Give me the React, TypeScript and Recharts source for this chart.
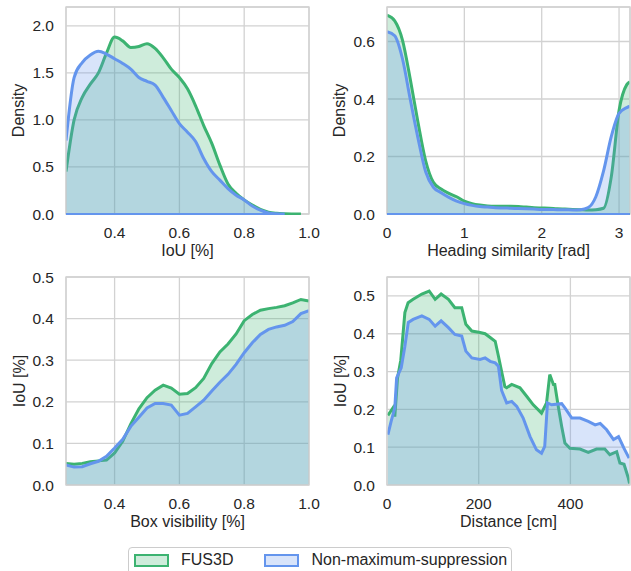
import {
  Area,
  AreaChart,
  CartesianGrid,
  ReferenceArea,
  ReferenceLine,
  XAxis,
  YAxis,
} from "recharts";

// Series shown in every panel
const seriesNames = ["FUS3D", "Non-maximum-suppression"];
const seriesColors = ["#3cb371", "#6495ed"];

// Top left: density of IoU
const iouX = [
  0.25, 0.275, 0.3, 0.325, 0.35, 0.375, 0.4, 0.425, 0.45, 0.475, 0.5, 0.525,
  0.55, 0.575, 0.6, 0.625, 0.65, 0.675, 0.7, 0.725, 0.75, 0.775, 0.8, 0.825,
  0.85, 0.875, 0.9, 0.925, 0.95, 0.975,
];
const fusIouDensity = [
  0.45, 1.0, 1.24, 1.38, 1.5, 1.71, 1.88, 1.84, 1.77, 1.78, 1.81, 1.76, 1.66,
  1.54, 1.45, 1.33, 1.15, 0.94, 0.75, 0.52, 0.32, 0.22, 0.15, 0.095, 0.05, 0.02,
  0.008, 0.003, 0.001, 0,
];
const nmsIouDensity = [
  0.78, 1.45, 1.61, 1.69, 1.73, 1.7, 1.65, 1.6, 1.54, 1.45, 1.41, 1.37, 1.24,
  1.1, 0.96, 0.87, 0.77, 0.59, 0.45, 0.36, 0.27, 0.2, 0.15, 0.085, 0.04, 0.012,
  0.003, 0,
];
const iouTicks = [0.4, 0.6, 0.8, 1.0];
const iouDensityTicks = [0, 0.5, 1.0, 1.5, 2.0];

// Top right: density of heading similarity
const headingX = [
  0, 0.1, 0.2, 0.3, 0.4, 0.5, 0.6, 0.7, 0.8, 0.9, 1.0, 1.1, 1.2, 1.3, 1.4, 1.5,
  1.6, 1.7, 1.8, 1.9, 2.0, 2.1, 2.2, 2.3, 2.4, 2.5, 2.6, 2.7, 2.8, 2.9, 3.0, 3.1,
  3.14,
];
const fusHeadingDensity = [
  0.692, 0.672, 0.605, 0.47, 0.32, 0.185, 0.11, 0.087, 0.072, 0.06, 0.045,
  0.036, 0.031, 0.028, 0.027, 0.027, 0.027, 0.026, 0.024, 0.022, 0.021, 0.02,
  0.018, 0.017, 0.016, 0.015, 0.014, 0.015, 0.02, 0.13, 0.36, 0.45, 0.46,
];
const nmsHeadingDensity = [
  0.634, 0.62, 0.54, 0.4, 0.265, 0.147, 0.093, 0.074, 0.058, 0.045, 0.036, 0.03,
  0.026, 0.024, 0.022, 0.021, 0.02, 0.019, 0.018, 0.017, 0.016, 0.016, 0.015,
  0.015, 0.014, 0.015, 0.022, 0.06, 0.15, 0.27, 0.35, 0.37, 0.375,
];
const headingTicks = [0, 1, 2, 3];
const headingDensityTicks = [0, 0.2, 0.4, 0.6];

// Bottom left: IoU over box visibility
const visibilityX = [
  0.25, 0.275, 0.3, 0.325, 0.35, 0.375, 0.4, 0.425, 0.45, 0.475, 0.5, 0.525,
  0.55, 0.575, 0.6, 0.625, 0.65, 0.675, 0.7, 0.725, 0.75, 0.775, 0.8, 0.825,
  0.85, 0.875, 0.9, 0.925, 0.95, 0.975, 1.0,
];
const fusVisibilityIou = [
  0.052, 0.05, 0.052, 0.056, 0.058, 0.06, 0.077, 0.105, 0.147, 0.183, 0.21,
  0.228, 0.24, 0.233, 0.218, 0.22, 0.234, 0.256, 0.292, 0.32, 0.339, 0.363,
  0.395, 0.41, 0.42, 0.424, 0.427, 0.431, 0.438, 0.446, 0.442,
];
const nmsVisibilityIou = [
  0.048, 0.043, 0.044, 0.051, 0.057, 0.069, 0.089, 0.11, 0.141, 0.163, 0.185,
  0.196, 0.196, 0.192, 0.168, 0.172, 0.188, 0.204, 0.226, 0.247, 0.266, 0.29,
  0.318, 0.342, 0.362, 0.374, 0.38, 0.384, 0.393, 0.412, 0.419,
];
const visibilityTicks = [0.4, 0.6, 0.8, 1.0];
const visibilityIouTicks = [0, 0.1, 0.2, 0.3, 0.4, 0.5];

// Bottom right: IoU over distance
const fusDistance = [
  2, 8, 13, 17, 23, 30, 39, 46, 57, 76, 92, 105, 118, 134, 148, 163, 172, 185,
  203, 214, 225, 236, 243, 250, 257, 261, 272, 290, 305, 319, 337, 348, 355, 363,
  366, 374, 381, 388, 399, 421, 439, 457, 475, 486, 501, 508, 517, 526, 529,
];
const fusDistanceIou = [
  0.184, 0.195, 0.204, 0.181, 0.283, 0.33, 0.456, 0.482, 0.491, 0.505, 0.513,
  0.491, 0.505, 0.491, 0.469, 0.469, 0.425, 0.407, 0.403, 0.4, 0.39, 0.38, 0.341,
  0.3, 0.26, 0.257, 0.266, 0.257, 0.234, 0.212, 0.19, 0.217, 0.292, 0.266, 0.266,
  0.204, 0.155, 0.111, 0.097, 0.095, 0.086, 0.095, 0.095, 0.08, 0.088, 0.058,
  0.055, 0.02, 0.004,
];
const nmsDistance = [
  2, 9, 17, 21, 31, 39, 46.5, 57, 76, 92, 105, 118, 134, 148, 163, 172, 185, 203,
  214, 225, 236, 243, 250, 261, 272, 283, 297, 312, 326, 337, 344, 350, 359, 381,
  388, 403, 421, 439, 454, 465, 479, 494, 505, 517, 528,
];
const nmsDistanceIou = [
  0.133, 0.168, 0.204, 0.283, 0.31, 0.367, 0.43, 0.438, 0.447, 0.438, 0.42,
  0.434, 0.416, 0.398, 0.394, 0.354, 0.336, 0.332, 0.336, 0.327, 0.323, 0.314,
  0.25, 0.217, 0.221, 0.208, 0.177, 0.128, 0.093, 0.084, 0.102, 0.217, 0.212,
  0.215, 0.204, 0.177, 0.177, 0.168, 0.159, 0.163, 0.146, 0.12, 0.128, 0.097,
  0.071,
];
const distanceTicks = [0, 200, 400];
const distanceIouTicks = [0, 0.1, 0.2, 0.3, 0.4, 0.5];

const TEXT = "#262626";
const GRID = "#d2d2d2";

type Row = { x: number; fus?: number; nms?: number };

// Puts both series into one table keyed by x (missing values stay undefined)
const mergeSeries = (
  fx: number[],
  fy: number[],
  nx: number[],
  ny: number[]
): Row[] => {
  const rows = new Map<number, Row>();
  fy.forEach((y, i) => rows.set(fx[i], { ...(rows.get(fx[i]) ?? { x: fx[i] }), fus: y }));
  ny.forEach((y, i) => rows.set(nx[i], { ...(rows.get(nx[i]) ?? { x: nx[i] }), nms: y }));
  return [...rows.values()].sort((a, b) => a.x - b.x);
};

type PanelProps = {
  left: number;
  top: number;
  width: number;
  height: number;
  rightMargin: number;
  yAxisWidth: number;
  yLabelOffset: number;
  data: Row[];
  xDomain: [number, number];
  yDomain: [number, number];
  xTicks: number[];
  yTicks: number[];
  xDecimals: number;
  xLabel: string;
  yLabel: string;
  curve: "monotone" | "linear";
  // kde panels also draw the filled polygon's bottom edge
  baseline?: boolean;
};

const Panel = ({
  left,
  top,
  width,
  height,
  rightMargin,
  yAxisWidth,
  yLabelOffset,
  data,
  xDomain,
  yDomain,
  xTicks,
  yTicks,
  xDecimals,
  xLabel,
  yLabel,
  curve,
  baseline,
}: PanelProps) => {
  const keys: ("fus" | "nms")[] = ["fus", "nms"];
  return (
    <div style={{ position: "absolute", left, top }}>
      <AreaChart
        width={width}
        height={height}
        data={data}
        margin={{ top: 7, right: rightMargin, left: 0, bottom: 0 }}
      >
        <CartesianGrid stroke={GRID} strokeWidth={1.3} />
        <XAxis
          type="number"
          dataKey="x"
          domain={xDomain}
          ticks={xTicks}
          interval={0}
          allowDataOverflow
          tickFormatter={(v: number) => v.toFixed(xDecimals)}
          tickLine={false}
          axisLine={false}
          tickSize={0}
          tickMargin={13}
          height={48}
          tick={{ fill: TEXT, fontSize: 15.5 }}
          label={{
            value: xLabel,
            position: "insideBottom",
            offset: 6,
            fill: TEXT,
            fontSize: 16,
          }}
        />
        <YAxis
          type="number"
          domain={yDomain}
          ticks={yTicks}
          interval={0}
          allowDataOverflow
          tickFormatter={(v: number) => v.toFixed(1)}
          tickLine={false}
          axisLine={false}
          tickSize={0}
          tickMargin={12}
          width={yAxisWidth}
          tick={{ fill: TEXT, fontSize: 15.5 }}
          label={{
            value: yLabel,
            angle: -90,
            position: "insideLeft",
            offset: yLabelOffset,
            fill: TEXT,
            fontSize: 16,
            style: { textAnchor: "middle" },
          }}
        />
        {keys.map((key, i) => (
          <Area
            key={key}
            dataKey={key}
            type={curve}
            stroke={seriesColors[i]}
            strokeWidth={3}
            fill={seriesColors[i]}
            fillOpacity={0.25}
            connectNulls
            dot={false}
            activeDot={false}
            isAnimationActive={false}
          />
        ))}
        {baseline &&
          keys.map((key, i) => {
            const xs = data.filter((r) => r[key] !== undefined).map((r) => r.x);
            return (
              <ReferenceLine
                key={`base-${key}`}
                segment={[
                  { x: xs[0], y: 0 },
                  { x: xs[xs.length - 1], y: 0 },
                ]}
                stroke={seriesColors[i]}
                strokeWidth={2.2}
              />
            );
          })}
        {/* Frame around the plot area */}
        <ReferenceArea
          x1={xDomain[0]}
          x2={xDomain[1]}
          y1={yDomain[0]}
          y2={yDomain[1]}
          fill="none"
          stroke={GRID}
          strokeWidth={1.3}
        />
      </AreaChart>
    </div>
  );
};

// Shared legend below the four panels
const LegendBox = () => (
  <div
    style={{
      position: "absolute",
      left: 128,
      top: 547,
      width: 384,
      height: 32,
      boxSizing: "border-box",
      border: "1px solid #cccccc",
      borderRadius: 4,
      background: "#fff",
      display: "flex",
      alignItems: "flex-start",
      paddingLeft: 5,
      paddingTop: 5,
      whiteSpace: "nowrap",
    }}
  >
    {seriesNames.map((name, i) => (
      <div
        key={name}
        style={{
          display: "flex",
          alignItems: "center",
          flexShrink: 0,
          marginRight: i < seriesNames.length - 1 ? 31 : 0,
        }}
      >
        <span
          style={{
            display: "inline-block",
            width: 35,
            height: 13,
            boxSizing: "border-box",
            border: `2.7px solid ${seriesColors[i]}`,
            background: `${seriesColors[i]}40`,
          }}
        />
        <span style={{ marginLeft: 12, fontSize: 16, color: TEXT, lineHeight: "14px" }}>
          {name}
        </span>
      </div>
    ))}
  </div>
);

const App = () => (
  <div
    style={{
      position: "absolute",
      left: 0,
      top: 0,
      width: 631,
      height: 571,
      overflow: "hidden",
      background: "#fff",
      fontFamily: '"Liberation Sans", Arial, sans-serif',
    }}
  >
    <Panel
      left={0}
      top={0}
      width={330}
      height={262}
      rightMargin={21}
      yAxisWidth={66}
      yLabelOffset={18.5}
      data={mergeSeries(iouX, fusIouDensity, iouX, nmsIouDensity)}
      xDomain={[0.25, 1.0]}
      yDomain={[0, 2.2]}
      xTicks={iouTicks}
      yTicks={iouDensityTicks}
      xDecimals={1}
      xLabel="IoU [%]"
      yLabel="Density"
      curve="monotone"
      baseline
    />
    <Panel
      left={315}
      top={0}
      width={316}
      height={262}
      rightMargin={1}
      yAxisWidth={72}
      yLabelOffset={24.5}
      data={mergeSeries(headingX, fusHeadingDensity, headingX, nmsHeadingDensity)}
      xDomain={[0, Math.PI]}
      yDomain={[0, 0.72]}
      xTicks={headingTicks}
      yTicks={headingDensityTicks}
      xDecimals={0}
      xLabel="Heading similarity [rad]"
      yLabel="Density"
      curve="monotone"
      baseline
    />
    <Panel
      left={0}
      top={270}
      width={330}
      height={263}
      rightMargin={21}
      yAxisWidth={66}
      yLabelOffset={19}
      data={mergeSeries(visibilityX, fusVisibilityIou, visibilityX, nmsVisibilityIou)}
      xDomain={[0.25, 1.0]}
      yDomain={[0, 0.5]}
      xTicks={visibilityTicks}
      yTicks={visibilityIouTicks}
      xDecimals={1}
      xLabel="Box visibility [%]"
      yLabel="IoU [%]"
      curve="linear"
    />
    <Panel
      left={315}
      top={270}
      width={316}
      height={263}
      rightMargin={1}
      yAxisWidth={72}
      yLabelOffset={25}
      data={mergeSeries(fusDistance, fusDistanceIou, nmsDistance, nmsDistanceIou)}
      xDomain={[0, 530]}
      yDomain={[0, 0.55]}
      xTicks={distanceTicks}
      yTicks={distanceIouTicks}
      xDecimals={0}
      xLabel="Distance [cm]"
      yLabel="IoU [%]"
      curve="linear"
    />
    <LegendBox />
  </div>
);

export default App;
